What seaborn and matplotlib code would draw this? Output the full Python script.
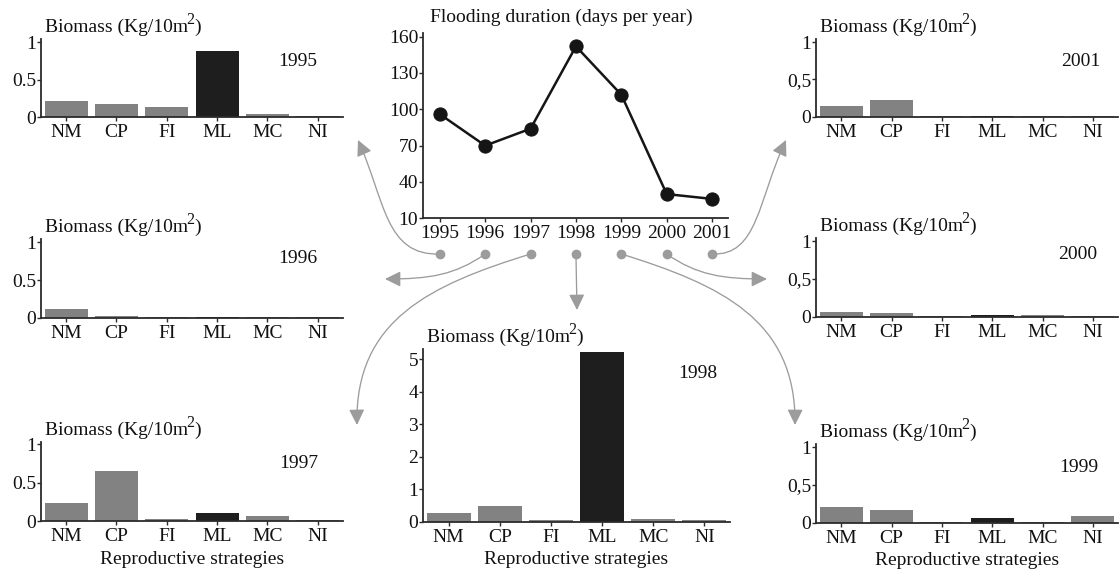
import matplotlib
matplotlib.use("Agg")
import matplotlib.pyplot as plt
import matplotlib.transforms as mtransforms
import pandas as pd
import seaborn as sns
from matplotlib.lines import Line2D
from matplotlib.patches import FancyArrowPatch, ArrowStyle
from matplotlib.path import Path

# ---- data -------------------------------------------------------------
strategies = ["NM", "CP", "FI", "ML", "MC", "NI"]
years = [1995, 1996, 1997, 1998, 1999, 2000, 2001]
flood_days = [96, 70, 84, 152, 112, 30, 26]

biomass_1995 = [0.22, 0.18, 0.14, 0.89, 0.045, 0.01]
biomass_1996 = [0.12, 0.02, 0.01, 0.01, 0.01, 0.005]
biomass_1997 = [0.23, 0.65, 0.02, 0.10, 0.07, 0.01]
biomass_1998 = [0.26, 0.49, 0.04, 5.21, 0.08, 0.04]
biomass_1999 = [0.21, 0.17, 0.01, 0.06, 0.01, 0.085]
biomass_2000 = [0.065, 0.045, 0.01, 0.025, 0.02, 0.015]
biomass_2001 = [0.15, 0.22, 0.01, 0.015, 0.01, 0.01]

biomass = {
    1995: biomass_1995, 1996: biomass_1996, 1997: biomass_1997,
    1998: biomass_1998, 1999: biomass_1999, 2000: biomass_2000,
    2001: biomass_2001,
}

# ---- style ------------------------------------------------------------
sns.set_theme(style="ticks")
plt.rcParams["font.family"] = ["Liberation Serif", "DejaVu Serif"]

W, H = 1119, 577
FS = 14
INK = "#2b2b2b"
TXT = "#111111"
GREY_BAR = "#828282"
DARK_BAR = "#1e1e1e"
LINK = "#9c9c9c"

fig = plt.figure(figsize=(W / 100, H / 100), dpi=100)
fig.patch.set_facecolor("white")


def rect(l, t, r, b):
    """Pixel box (left, top, right, bottom) -> figure fraction rect."""
    return [l / W, 1 - b / H, (r - l) / W, (b - t) / H]


def frac(x, y):
    return (x / W, 1 - y / H)


def style_axes(ax):
    sns.despine(ax=ax)
    for s in ("left", "bottom"):
        ax.spines[s].set_color(INK)
        ax.spines[s].set_linewidth(1.3)
    ax.tick_params(axis="y", direction="out", length=2.6, width=1.0,
                   color=INK, labelcolor=TXT, labelsize=FS, pad=0.8)
    ax.tick_params(axis="x", direction="out", length=3.0, width=1.0,
                   color=INK, labelcolor=TXT, labelsize=FS, pad=2.0)
    ax.set_facecolor("white")
    ax.grid(False)


def unit_title(ax):
    """'Biomass (Kg/10m²)' with a large raised exponent, above the y axis."""
    main = ax.annotate("Biomass (Kg/10m", xy=(0, 1), xycoords="axes fraction",
                       xytext=(4, 7), textcoords="offset pixels", ha="left",
                       va="baseline", fontsize=FS, color=TXT)
    sup = ax.annotate("2", xy=(1, 0), xycoords=main, xytext=(-1.5, 8),
                      textcoords="offset pixels", ha="left", va="bottom",
                      fontsize=11.5, color=TXT)
    ax.annotate(")", xy=(1, 0), xycoords=(sup, main), xytext=(-0.5, 0),
                textcoords="offset pixels", ha="left", va="bottom",
                fontsize=FS, color=TXT)


# (box in px, y top, tick values, tick labels, year label xy, xlabel)
panels = {
    1995: ((41, 39.3, 343, 117.0), 1.04, [0, 0.5, 1], ["0", "0.5", "1"], (0.85, 0.71), False),
    1996: ((41, 239.3, 343, 317.7), 1.04, [0, 0.5, 1], ["0", "0.5", "1"], (0.85, 0.76), False),
    1997: ((41, 441.7, 343, 521.0), 1.03, [0, 0.5, 1], ["0", "0.5", "1"], (0.855, 0.73), True),
    2001: ((816, 39.3, 1118, 116.7), 1.04, [0, 0.5, 1], ["0", "0,5", "1"], (0.877, 0.71), False),
    2000: ((816, 238.3, 1118, 316.7), 1.04, [0, 0.5, 1], ["0", "0,5", "1"], (0.866, 0.79), False),
    1999: ((816, 444.3, 1118, 522.7), 1.04, [0, 0.5, 1], ["0", "0,5", "1"], (0.87, 0.71), True),
    1998: ((423, 349.3, 730, 521.7), 5.3, [0, 1, 2, 3, 4, 5], ["0", "1", "2", "3", "4", "5"], (0.894, 0.86), True),
}

palette = {s: (DARK_BAR if s == "ML" else GREY_BAR) for s in strategies}

for yr, (box, ytop, yt, ytl, lab_xy, with_xlabel) in panels.items():
    ax = fig.add_axes(rect(*box))
    df = pd.DataFrame({"strategy": strategies, "biomass": biomass[yr]})
    sns.barplot(data=df, x="strategy", y="biomass", hue="strategy",
                order=strategies, hue_order=strategies, palette=palette,
                saturation=1, width=0.86, linewidth=0, legend=False, ax=ax)
    ax.set_xlim(-0.5, 5.5)
    ax.set_ylim(0, ytop)
    ax.set_yticks(yt)
    ax.set_yticklabels(ytl)
    ax.set_ylabel("")
    style_axes(ax)
    if with_xlabel:
        ax.set_xlabel("Reproductive strategies", fontsize=FS, color=TXT, labelpad=4)
    else:
        ax.set_xlabel("")
    unit_title(ax)
    ax.text(lab_xy[0], lab_xy[1], str(yr), transform=ax.transAxes,
            ha="center", va="center", fontsize=FS, color=TXT)

# ---- flooding duration line chart --------------------------------------
axl = fig.add_axes(rect(423, 33, 728, 218.3))
sns.lineplot(x=years, y=flood_days, marker="o", markersize=9.5,
             markeredgecolor="#151515", color="#151515", linewidth=1.8,
             ax=axl)
axl.set_xlim(1994.63, 2001.35)
axl.set_ylim(10, 163)
axl.set_xticks(years)
axl.set_xticklabels([str(y) for y in years])
axl.set_yticks([10, 40, 70, 100, 130, 160])
style_axes(axl)
axl.text(0.452, 1.0, "Flooding duration (days per year)",
         transform=mtransforms.offset_copy(axl.transAxes, fig=fig, x=0, y=11, units="dots"),
         ha="center", va="baseline", fontsize=FS, color=TXT)

# ---- year markers and links to the biomass panels ----------------------
dot_y = 254
dot_x = {yr: axl.transData.transform((yr, 10))[0] for yr in years}

curves = {
    1995: [(385, 256), (385, 200), (358, 140)],
    1996: [(455, 275), (430, 279), (385, 279)],
    1997: [(430, 285), (355, 320), (357, 425)],
    1998: [(577, 310)],
    1999: [(721, 285), (796, 320), (795, 425)],
    2000: [(697, 275), (722, 279), (767, 279)],
    2001: [(758, 256), (758, 200), (786, 140)],
}

head = ArrowStyle("-|>", head_length=0.95, head_width=0.47)
for yr in years:
    start = frac(dot_x[yr], dot_y)
    pts = [start] + [frac(x, y) for x, y in curves[yr]]
    if len(pts) == 2:
        codes = [Path.MOVETO, Path.LINETO]
    else:
        codes = [Path.MOVETO, Path.CURVE4, Path.CURVE4, Path.CURVE4]
    arrow = FancyArrowPatch(path=Path(pts, codes), arrowstyle=head,
                            mutation_scale=10, color=LINK, linewidth=0.95,
                            transform=fig.transFigure)
    fig.add_artist(arrow)
    fig.add_artist(Line2D([start[0]], [start[1]], transform=fig.transFigure,
                          marker="o", markersize=6, color=LINK,
                          linestyle="none"))

fig.savefig("out.png", dpi=100, facecolor="white")
